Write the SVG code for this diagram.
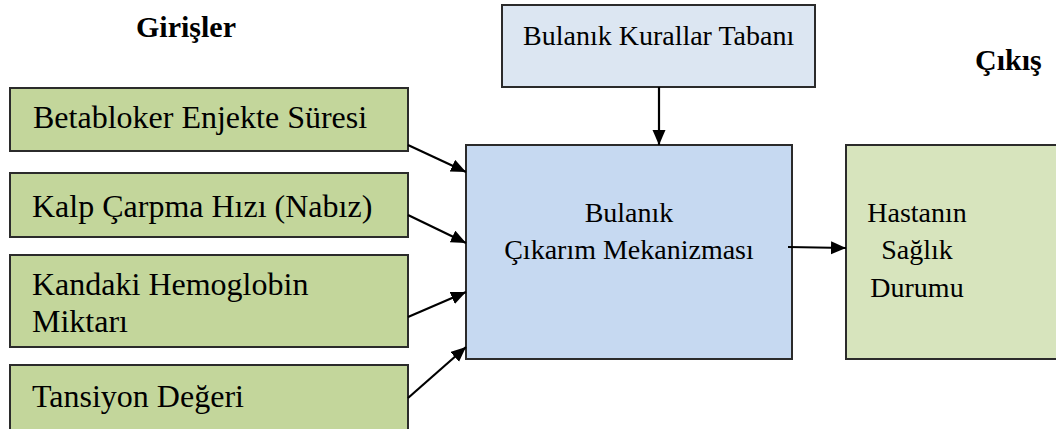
<svg xmlns="http://www.w3.org/2000/svg" width="1056" height="429" viewBox="0 0 1056 429">
<style>
.box{stroke:#2b2b2b;stroke-width:2}
.in{fill:#C3D69B}
text{font-family:'Liberation Serif','Tinos','Times New Roman','DejaVu Serif',serif;fill:#000}
.t{font-size:32px}
.t28{font-size:28px}
.h{font-size:30px;font-weight:bold}
.c{stroke:#000;stroke-width:2.2;fill:none;marker-end:url(#ah)}
</style>
<defs>
<marker id="ah" markerUnits="userSpaceOnUse" markerWidth="16" markerHeight="14" refX="15" refY="6.5" orient="auto">
<path d="M0,0 L15,6.5 L0,13 z" fill="#000"/>
</marker>
</defs>
<rect width="1056" height="429" fill="#fff"/>
<g font-family="Liberation Serif, Tinos, DejaVu Serif, serif">
<text class="h" x="136" y="37">Girişler</text>
<text class="h" x="975" y="70">Çıkış</text>
<g id="rules">
<rect class="box" x="502" y="5" width="313" height="82" fill="#DCE6F2"/>
<text class="t28" x="523" y="45">Bulanık Kurallar Tabanı</text>
</g>
<g id="in1">
<rect class="box in" x="10" y="88" width="398" height="63"/>
<text class="t" x="33" y="128">Betabloker Enjekte Süresi</text>
</g>
<g id="in2">
<rect class="box in" x="10" y="173" width="398" height="64"/>
<text class="t" x="32" y="217">Kalp Çarpma Hızı (Nabız)</text>
</g>
<g id="in3">
<rect class="box in" x="10" y="255" width="398" height="92"/>
<text class="t" x="32" y="295">Kandaki Hemoglobin</text>
<text class="t" x="32" y="332">Miktarı</text>
</g>
<g id="in4">
<rect class="box in" x="10" y="365" width="398" height="68"/>
<text class="t" x="32" y="407">Tansiyon Değeri</text>
</g>
<g id="engine">
<rect class="box" x="466" y="145" width="326" height="214" fill="#C6D9F1"/>
<text class="t28" x="629" y="222" text-anchor="middle">Bulanık</text>
<text class="t28" x="629" y="259" text-anchor="middle">Çıkarım Mekanizması</text>
</g>
<g id="output">
<rect class="box" x="846" y="145" width="215" height="214" fill="#D7E4BD"/>
<text class="t28" x="917" y="222" text-anchor="middle">Hastanın</text>
<text class="t28" x="917" y="259" text-anchor="middle">Sağlık</text>
<text class="t28" x="917" y="297" text-anchor="middle">Durumu</text>
</g>
</g>
<g id="connectors">
<line class="c" x1="408" y1="145" x2="466" y2="172"/>
<line class="c" x1="408" y1="215" x2="466" y2="243"/>
<line class="c" x1="408" y1="317" x2="466" y2="292"/>
<line class="c" x1="408" y1="398" x2="466" y2="347"/>
<line class="c" x1="659" y1="87" x2="659" y2="145"/>
<line class="c" x1="788" y1="247" x2="846" y2="248"/>
</g>
</svg>
